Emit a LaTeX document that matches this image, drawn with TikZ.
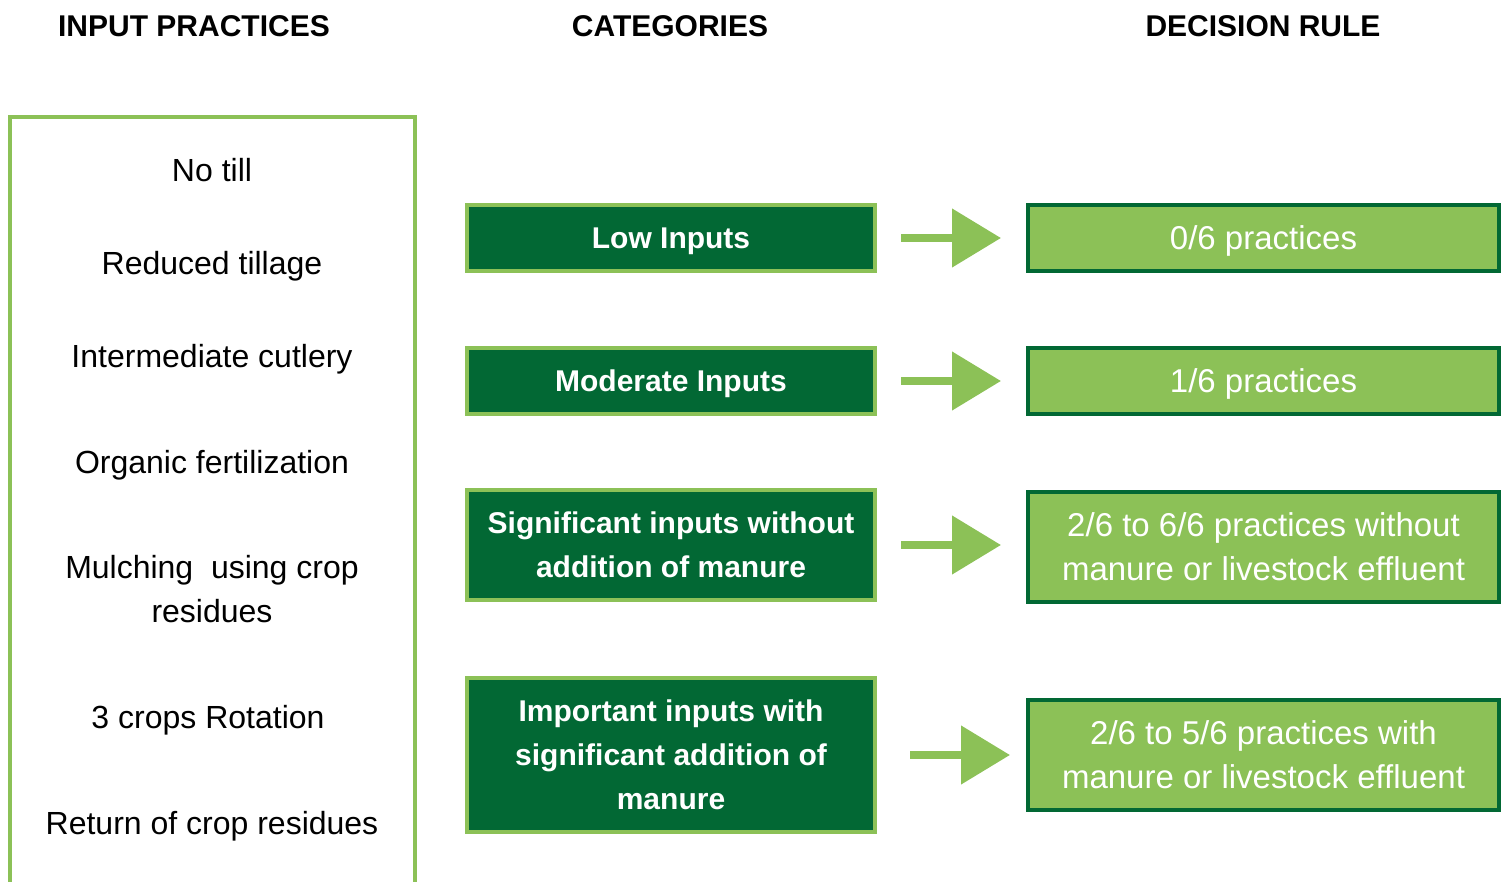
\documentclass[tikz,border=0pt]{standalone}
\usepackage{fontspec}
\setmainfont{Liberation Sans}
\usetikzlibrary{positioning,arrows.meta}
\definecolor{leafgreen}{RGB}{140,193,87}
\definecolor{forestgreen}{RGB}{2,104,52}

\begin{document}
\begin{tikzpicture}[x=1pt,y=-1pt,
		heading/.style={font=\fontsize{30}{40}\selectfont\bfseries},
		practice/.style={font=\fontsize{32}{44}\selectfont,align=center},
		catbox/.style={draw=leafgreen,fill=forestgreen,line width=4pt,text=white,font=\fontsize{30}{44}\selectfont\bfseries,align=center,minimum width=408pt,inner sep=0pt},
		rulebox/.style={draw=forestgreen,fill=leafgreen,line width=4pt,text=white,font=\fontsize{33}{44}\selectfont,align=center,minimum width=471pt,inner sep=0pt},
		oneline/.style={text depth=0pt},
		blockarrow/.style={draw=leafgreen,line width=8pt,-{Triangle[length=49pt,width=57pt]}}]
		\useasboundingbox (0,0) rectangle (1509,882);
		% headings
		\node[heading] (hIn) at (194,26) {INPUT PRACTICES};
		\node[heading] (hCat) at (670,26) {CATEGORIES};
		\node[heading] (hRule) at (1263,26) {DECISION RULE};
		% practices frame (open at the bottom)
		\draw[leafgreen,line width=4pt] (10,892) -- (10,117) -- (415,117) -- (415,892);
		\node[practice,oneline] (p1) at (212,170) {No till};
		\node[practice,oneline] (p2) at (212,263) {Reduced tillage};
		\node[practice,oneline] (p3) at (212,356) {Intermediate cutlery};
		\node[practice,oneline] (p4) at (212,462) {Organic fertilization};
		\node[practice] (p5) at (212,589) {Mulching~ using crop\\residues};
		\node[practice,oneline] (p6) at (208,717) {3 crops Rotation};
		\node[practice,oneline] (p7) at (212,823) {Return of crop residues};
		% categories
		\node[catbox,oneline,minimum height=66pt] (low) at (671,238) {Low Inputs};
		\node[catbox,oneline,minimum height=66pt] (moderate) at (671,381) {Moderate Inputs};
		\node[catbox,minimum height=110pt] (signif) at (671,545) {Significant inputs without\\addition of manure};
		\node[catbox,minimum height=154pt] (important) at (671,755) {Important inputs with\\significant addition of\\manure};
		% decision rules
		\node[rulebox,oneline,minimum height=66pt] (r0) at (1263.5,238) {0/6 practices};
		\node[rulebox,oneline,minimum height=66pt] (r1) at (1263.5,381) {1/6 practices};
		\node[rulebox,minimum height=110pt] (r2) at (1263.5,547) {2/6 to 6/6 practices without\\manure or livestock effluent};
		\node[rulebox,minimum height=110pt] (r3) at (1263.5,755) {2/6 to 5/6 practices with\\manure or livestock effluent};
		\draw[blockarrow,shorten <=24pt,shorten >=25pt] (low) -- (r0);
		\draw[blockarrow,shorten <=24pt,shorten >=25pt] (moderate) -- (r1);
		\draw[blockarrow,shorten <=24pt,shorten >=25pt] (signif.east) -- (signif.east -| r2.west);
		\draw[blockarrow,shorten <=33pt,shorten >=16pt] (important) -- (r3);
	\end{tikzpicture}
\end{document}
